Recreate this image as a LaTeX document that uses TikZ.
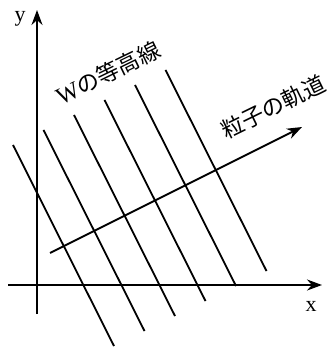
\documentclass[tikz,border=0pt]{standalone}
\usepackage{fontspec}
\setmainfont{Liberation Serif}
\newfontfamily\jpfont{Noto Sans CJK JP}
\usepackage{tikz}
\usetikzlibrary{arrows.meta}

\begin{document}
\begin{tikzpicture}[
    x=1pt, y=-1pt,
    every node/.style={font=\fontsize{22}{26}\selectfont, inner sep=0pt},
    axisarr/.style={line width=1.8pt, -{Stealth[length=15pt,width=11pt]}},
    contour/.style={line width=1.8pt},
    jlbl/.style={font=\jpfont\fontsize{22.5}{26}\selectfont, rotate=26}
  ]
  \useasboundingbox (0,0) rectangle (328,347);

  %% Axes
  \coordinate (xs) at (8,285);
  \coordinate (xe) at (322,285);
  \coordinate (ys) at (37,314);
  \coordinate (ye) at (37,10);
  \draw[axisarr] (xs) -- (xe);
  \draw[axisarr] (ys) -- (ye);
  \node (xl) at (311,306) {x};
  \node (yl) at (20,19) {y};

  %% Contour lines of W
  \foreach \i in {0,...,5}
    \draw[contour] ({13+30.5*\i},{145-15*\i}) coordinate (c\i) -- ++(101,201);

  %% Particle trajectory
  \coordinate (ts) at (50,253);
  \coordinate (te) at (302,127);
  \draw[axisarr] (ts) -- (te);

  %% Labels
  \node[jlbl] (wlbl) at (108,73) {{\rmfamily\fontsize{24}{26}\selectfont W}の等高線};
  \node[jlbl] (tlbl) at (273,107) {粒子の軌道};

\end{tikzpicture}
\end{document}
